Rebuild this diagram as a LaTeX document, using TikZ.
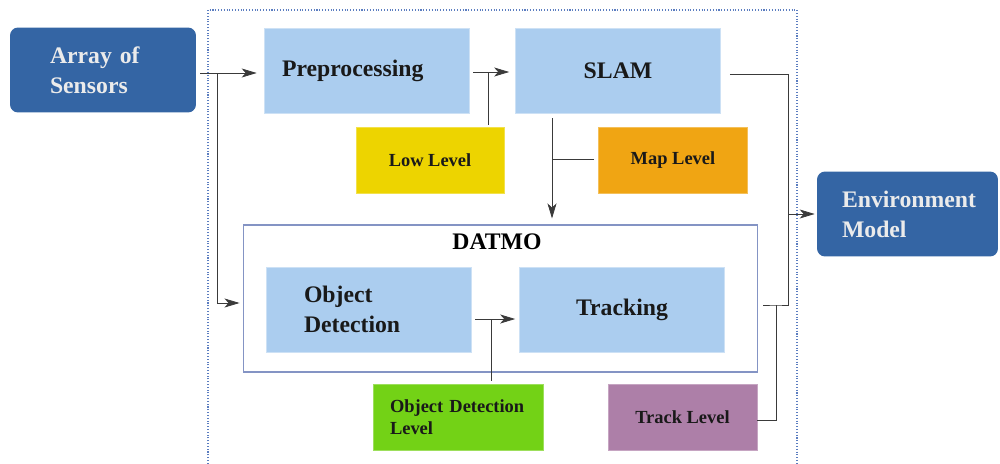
\documentclass[tikz,border=0pt]{standalone}
\usepackage{fontspec}
\setmainfont{Liberation Serif}
\usetikzlibrary{arrows.meta}
\definecolor{sensorblue}{HTML}{3465A4}
\definecolor{stageblue}{HTML}{ABCDEF}
\definecolor{lowyellow}{HTML}{EDD400}
\definecolor{maporange}{HTML}{F0A513}
\definecolor{objgreen}{HTML}{73D216}
\definecolor{trackpurple}{HTML}{AD7FA8}
\definecolor{framegray}{HTML}{8494C4}
\definecolor{framedot}{HTML}{5B7DC0}
\definecolor{wirecol}{HTML}{3A3A3A}
\begin{document}
\begin{tikzpicture}[x=0.02cm, y=-0.02cm,
    io/.style={fill=sensorblue, rounded corners=0.16cm, text=white!92!black,
      font=\bfseries\fontsize{13.5}{17}\selectfont, minimum height=1.7cm, align=left},
    stage/.style={fill=stageblue, draw=stageblue!60!white, minimum width=4.1cm,
      minimum height=1.7cm, text=black!90, font=\bfseries\fontsize{13.5}{17}\selectfont},
    level/.style={fill=#1, draw=#1!70!white, minimum height=1.32cm, text=black!90,
      font=\bfseries\fontsize{10.5}{12.5}\selectfont},
    link/.style={draw=wirecol, line width=0.45pt},
    arr/.style={link, -{Stealth[length=0.3cm, width=0.18cm, inset=0.08cm]}}]
  \useasboundingbox (0,0) rectangle (1000,463);

  % dotted frame round the processing part
  \draw[framedot, densely dotted, line width=0.6pt] (208,475) -- (208,10) -- (797,10) -- (797,475);

  % input and output
  \node[io, text width=2.12cm, inner xsep=0.8cm] (sensors) at (103,70) {Array of\\Sensors};
  \node[io, text width=2.62cm, inner xsep=0.5cm] (env) at (907.5,214) {Environment\\Model};

  % upper stages
  \node[stage, text width=3.38cm, inner xsep=0.36cm, align=left] (pre) at (366.5,70.5) {Preprocessing};
  \node[stage] (slam) at (618,70.5) {SLAM};
  \node[level=lowyellow, minimum width=2.96cm] (low) at (430,160) {Low Level};
  \node[level=maporange, minimum width=2.98cm] (map) at (673,160) {Map Level};

  % DATMO block
  \node[draw=framegray, line width=0.6pt, minimum width=10.3cm, minimum height=2.94cm] (datmo) at (500.5,298.5) {};
  \node[font=\bfseries\fontsize{13.5}{17}\selectfont] (datmotitle) at (497,242) {DATMO};
  \node[stage, text width=2.58cm, inner xsep=0.76cm, align=left] (od) at (368.5,309.5) {Object\\Detection};
  \node[stage] (trk) at (622,309.5) {Tracking};
  \node[level=objgreen, minimum width=3.4cm, text width=2.72cm, inner xsep=0.34cm, align=left] (odl) at (458,417) {Object Detection\\Level};
  \node[level=trackpurple, minimum width=2.98cm] (trl) at (682.5,417) {Track Level};

  % junctions
  \coordinate (split) at (217,73);
  \coordinate (lowj) at (488,72);
  \coordinate (mapj) at (552,159);
  \coordinate (bus) at (788,214);
  \coordinate (trkj) at (776,305);
  \coordinate (odj) at (491,319);

  % connectors
  \draw[arr, shorten <=0.08cm, shorten >=0.14cm] (sensors.east |- split) -- (pre.west |- split);
  \draw[arr, shorten >=0.06cm] (split) |- ([yshift=-0.09cm]datmo.west);
  \draw[arr, shorten <=0.08cm, shorten >=0.12cm] (pre.east |- lowj) -- (slam.west |- lowj);
  \draw[link, shorten <=0.04cm] (low.north -| lowj) -- (lowj);
  \draw[arr, shorten <=0.1cm, shorten >=0.12cm] (slam.south -| mapj) -- (datmo.north -| mapj);
  \draw[link, shorten <=0.08cm] (map.west |- mapj) -- (mapj);
  \draw[link] ([xshift=0.18cm, yshift=-0.07cm]slam.east) -| (bus);
  \draw[link] (bus) |- (trkj) -- ([xshift=0.76cm]trk.east |- trkj);
  \draw[link] ([yshift=-0.06cm]trl.east) -| (trkj);
  \draw[arr, shorten >=0.04cm] (bus) -- (env.west);
  \draw[arr, shorten <=0.08cm, shorten >=0.08cm] (od.east |- odj) -- (trk.west |- odj);
  \draw[link, shorten <=0.06cm] (odl.north -| odj) -- (odj);
\end{tikzpicture}
\end{document}
